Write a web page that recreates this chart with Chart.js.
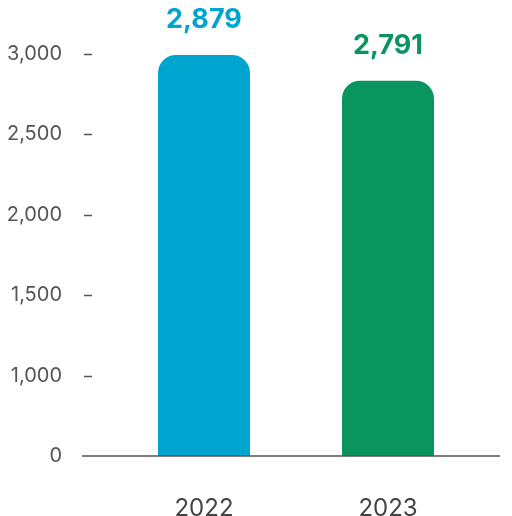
<!DOCTYPE html>
<html><head><meta charset="utf-8">
<script src="https://cdn.jsdelivr.net/npm/chart.js@4"></script>
<style>html,body{margin:0;padding:0;background:#fff}#w{width:512px;height:516px}</style>
</head><body><div id="w"><canvas id="c"></canvas></div>
<script>
const categories = ["2022", "2023"];
const barValues = [2994, 2834];
const valueLabels = ["2,879", "2,791"];
const colors = ["#00a5cf", "#0a9560"];
const yTicks = [500, 1000, 1500, 2000, 2500, 3000];
const yTickLabels = ["0", "1,000", "1,500", "2,000", "2,500", "3,000"];

const labelPlugin = {
  id: 'lbl',
  afterDatasetsDraw(chart) {
    const ctx = chart.ctx;
    const meta = chart.getDatasetMeta(0);
    ctx.save();
    ctx.font = 'bold 27px Inter, "Noto Sans", sans-serif';
    ctx.textAlign = 'center'; ctx.textBaseline = 'middle';
    meta.data.forEach((b, i) => {
      ctx.fillStyle = colors[i];
      ctx.fillText(valueLabels[i], b.x, b.y - 35);
    });
    const a = chart.chartArea;
    ctx.strokeStyle = '#555'; ctx.lineWidth = 1.5;
    ctx.beginPath(); ctx.moveTo(a.left - 30, a.bottom); ctx.lineTo(a.right + 20, a.bottom); ctx.stroke();
    const y = chart.scales.y;
    yTicks.slice(1).forEach(v => {
      const py = Math.round(y.getPixelForValue(v)) + 0.5;
      ctx.beginPath(); ctx.moveTo(a.left - 28, py); ctx.lineTo(a.left - 20, py); ctx.stroke();
    });
    ctx.restore();
  }
};

new Chart(document.getElementById('c'), {
  type: 'bar',
  data: { labels: categories, datasets: [{
    data: barValues,
    backgroundColor: colors,
    barPercentage: 0.5, categoryPercentage: 1,
    borderRadius: { topLeft: 18, topRight: 18 },
    borderSkipped: 'bottom'
  }]},
  options: {
    responsive: true, maintainAspectRatio: false, animation: false,
    layout: { padding: { top: 49, right: 32, left: 0, bottom: 0 } },
    plugins: { legend: { display: false }, tooltip: { enabled: false } },
    scales: {
      x: {
        afterFit: s => { s.height = 60; },
        ticks: { color: '#444', font: { size: 24, family: 'Inter, "Noto Sans", sans-serif' }, padding: 30, maxRotation: 0 },
        grid: { display: false }, border: { display: false }
      },
      y: {
        min: 500, max: 3000,
        afterFit: s => { s.width = 112; },
        afterBuildTicks: s => { s.ticks = yTicks.map(v => ({ value: v })); },
        ticks: { callback: (v) => yTickLabels[yTicks.indexOf(v)], color: '#555',
                 font: { size: 20, family: 'Inter, "Noto Sans", sans-serif' }, padding: 42 },
        grid: { display: false },
        border: { display: false }
      }
    }
  },
  plugins: [labelPlugin]
});
</script></body></html>
